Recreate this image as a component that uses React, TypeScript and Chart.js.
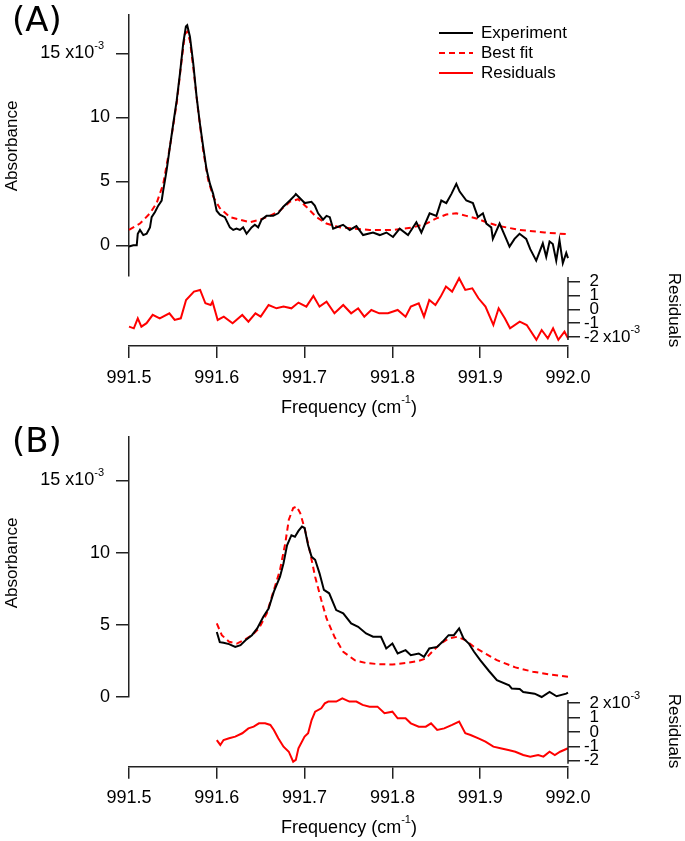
import React, { useEffect, useRef } from 'react';
import { Chart, registerables } from 'chart.js';
Chart.register(...registerables);

const FONT = '"Liberation Sans", Arial, sans-serif';
const AXIS = '#222';
const EXP_COLOR = '#000000';
const FIT_COLOR = '#ff0000';
const RES_COLOR = '#ff0000';

// ---------- tick labels ----------
const freqTicks = [991.5, 991.6, 991.7, 991.8, 991.9, 992.0];
const absTicks = [0, 5, 10, 15];
const resTicks = [-2, -1, 0, 1, 2];
const legendLabels = ['Experiment', 'Best fit', 'Residuals'];

// ---------- Panel A (values in units of 1e-3) ----------
const expA_freq = [991.5, 991.5049, 991.5088, 991.51, 991.5125, 991.5163, 991.5201, 991.5239, 991.5258, 991.5296, 991.5333, 991.5372, 991.539, 991.541, 991.5429, 991.5466, 991.5504, 991.5543, 991.558, 991.5618, 991.5648, 991.5663, 991.5694, 991.5732, 991.577, 991.5808, 991.5845, 991.5884, 991.5922, 991.5959, 991.5998, 991.6035, 991.6092, 991.6149, 991.6187, 991.6225, 991.6263, 991.63, 991.6339, 991.6396, 991.6433, 991.6471, 991.651, 991.6567, 991.6642, 991.6699, 991.6755, 991.6832, 991.6889, 991.69, 991.6945, 991.7002, 991.7078, 991.7116, 991.7154, 991.721, 991.725, 991.7287, 991.7325, 991.7438, 991.7514, 991.759, 991.7666, 991.7779, 991.7856, 991.7932, 991.8007, 991.8083, 991.8178, 991.8273, 991.833, 991.8424, 991.8501, 991.8557, 991.8614, 991.8671, 991.8728, 991.8766, 991.8842, 991.8917, 991.8974, 991.9031, 991.907, 991.9126, 991.9144, 991.9221, 991.9278, 991.9334, 991.9391, 991.9448, 991.9524, 991.957, 991.9638, 991.9713, 991.9752, 991.979, 991.9827, 991.9866, 991.9903, 991.9941, 991.998, 992.0];
const expA_abs = [-0.1, 0.0, 0.0, 0.9, 1.2, 0.8, 0.9, 1.4, 2.2, 2.6, 3.1, 3.5, 4.3, 5.1, 5.9, 7.7, 9.5, 11.3, 13.4, 15.8, 17.1, 17.2, 16.3, 14.2, 11.6, 9.5, 7.7, 5.9, 4.8, 4.0, 2.7, 2.4, 2.2, 1.4, 1.2, 1.3, 1.2, 1.4, 0.9, 1.4, 1.6, 1.4, 2.0, 2.3, 2.3, 2.5, 3.0, 3.5, 3.9, 4.0, 3.7, 3.3, 3.4, 3.1, 2.5, 2.0, 2.3, 2.2, 1.3, 1.6, 1.2, 1.5, 0.8, 1.0, 0.8, 1.0, 0.65, 1.3, 0.8, 1.8, 1.0, 2.5, 2.3, 3.5, 3.3, 4.0, 4.8, 4.2, 3.5, 3.3, 2.2, 2.5, 1.7, 1.4, 0.5, 1.7, 0.8, -0.1, 0.5, 0.9, 0.5, -0.3, -1.2, 0.15, -0.9, 0.3, 0.1, -1.2, 0.4, -1.4, -0.6, -1.0];

const fitA_freq = [991.5, 991.5125, 991.5239, 991.5315, 991.539, 991.5466, 991.5543, 991.56, 991.5637, 991.5663, 991.5694, 991.5732, 991.5788, 991.5845, 991.5902, 991.5959, 991.6035, 991.6149, 991.6263, 991.6377, 991.649, 991.6604, 991.6718, 991.6832, 991.6926, 991.7022, 991.7135, 991.7249, 991.74, 991.7742, 991.8007, 991.8234, 991.8387, 991.8501, 991.8614, 991.8728, 991.8842, 991.8956, 991.907, 991.9221, 991.9448, 991.9733, 992.0];
const fitA_abs = [1.2, 1.7, 2.5, 3.3, 4.8, 7.7, 11.1, 14.5, 16.5, 16.7, 16.0, 13.9, 10.5, 7.4, 5.1, 3.8, 2.9, 2.2, 2.0, 1.8, 2.0, 2.3, 2.7, 3.4, 3.6, 3.0, 2.2, 1.7, 1.4, 1.2, 1.2, 1.4, 1.7, 2.1, 2.4, 2.5, 2.3, 2.1, 1.8, 1.5, 1.2, 1.0, 0.86];

const resA_freq = [991.5, 991.5055, 991.51, 991.5141, 991.52, 991.527, 991.535, 991.546, 991.552, 991.559, 991.565, 991.574, 991.581, 991.587, 991.593, 991.5951, 991.601, 991.608, 991.618, 991.629, 991.636, 991.644, 991.65, 991.659, 991.668, 991.676, 991.685, 991.693, 991.702, 991.71, 991.717, 991.725, 991.734, 991.744, 991.753, 991.761, 991.768, 991.776, 991.785, 991.795, 991.806, 991.815, 991.821, 991.83, 991.836, 991.842, 991.849, 991.855, 991.861, 991.868, 991.876, 991.883, 991.891, 991.898, 991.906, 991.915, 991.921, 991.928, 991.934, 991.945, 991.953, 991.964, 991.97, 991.977, 991.983, 991.989, 991.996, 992.0];
const resA_val = [-1.25, -1.37, -0.65, -1.25, -1.0, -0.4, -0.65, -0.29, -0.77, -0.65, 0.67, 1.27, 1.39, 0.43, 0.31, 0.55, -0.77, -0.53, -1.0, -0.41, -0.89, -0.29, -0.53, 0.31, 0.07, 0.19, 0.07, 0.48, 0.19, 0.96, 0.19, 0.55, -0.29, 0.31, -0.29, 0.07, -0.53, -0.05, -0.29, -0.29, -0.05, -0.53, 0.19, 0.43, -0.53, 0.67, 0.31, 0.91, 1.63, 1.27, 2.23, 1.39, 1.51, 0.79, 0.19, -1.13, 0.07, -0.65, -1.37, -0.89, -1.13, -2.2, -1.49, -2.09, -1.37, -2.2, -1.61, -2.09];

// ---------- Panel B (values in units of 1e-3) ----------
const expB_freq = [991.6, 991.6034, 991.6077, 991.614, 991.621, 991.627, 991.633, 991.64, 991.646, 991.653, 991.659, 991.665, 991.672, 991.676, 991.68, 991.685, 991.689, 991.693, 991.697, 991.7, 991.704, 991.708, 991.712, 991.717, 991.722, 991.728, 991.736, 991.744, 991.753, 991.761, 991.77, 991.778, 991.787, 991.793, 991.8, 991.806, 991.815, 991.821, 991.83, 991.836, 991.842, 991.851, 991.857, 991.864, 991.87, 991.876, 991.881, 991.887, 991.893, 991.9, 991.91, 991.919, 991.933, 991.936, 991.945, 991.949, 991.962, 991.97, 991.979, 991.987, 991.998, 992.0];
const expB_abs = [4.5, 3.8, 3.75, 3.66, 3.47, 3.59, 3.94, 4.28, 4.75, 5.56, 6.13, 7.29, 8.33, 9.26, 10.5, 11.2, 11.1, 11.5, 11.8, 11.7, 10.5, 9.7, 9.5, 8.56, 7.41, 7.18, 6.02, 5.79, 5.09, 4.86, 4.4, 4.17, 4.17, 3.36, 3.7, 3.01, 3.24, 2.89, 3.01, 2.78, 3.36, 3.47, 3.82, 4.28, 4.28, 4.75, 4.05, 3.7, 3.13, 2.55, 1.8, 1.16, 0.8, 0.58, 0.55, 0.35, 0.23, 0.0, 0.35, 0.05, 0.23, 0.3];

const fitB_freq = [991.6, 991.6057, 991.614, 991.623, 991.631, 991.64, 991.648, 991.657, 991.665, 991.672, 991.678, 991.682, 991.687, 991.691, 991.695, 991.7, 991.706, 991.712, 991.719, 991.725, 991.734, 991.744, 991.757, 991.77, 991.785, 991.8, 991.815, 991.83, 991.838, 991.847, 991.855, 991.864, 991.874, 991.883, 991.893, 991.906, 991.919, 991.94, 991.96, 991.98, 992.0];
const fitB_abs = [5.09, 4.28, 3.82, 3.7, 3.94, 4.28, 4.75, 5.79, 7.41, 8.8, 10.65, 12.27, 13.08, 13.19, 12.73, 11.69, 10.07, 8.33, 6.71, 5.44, 4.17, 3.13, 2.55, 2.35, 2.27, 2.25, 2.35, 2.5, 2.66, 3.24, 3.7, 4.05, 4.17, 3.94, 3.47, 3.0, 2.55, 2.05, 1.75, 1.55, 1.4];

const resB_freq = [991.6, 991.604, 991.6077, 991.614, 991.621, 991.629, 991.636, 991.642, 991.648, 991.655, 991.661, 991.665, 991.67, 991.676, 991.682, 991.687, 991.69, 991.693, 991.7, 991.704, 991.708, 991.712, 991.719, 991.723, 991.727, 991.736, 991.743, 991.751, 991.759, 991.766, 991.774, 991.783, 991.791, 991.8, 991.806, 991.815, 991.821, 991.83, 991.838, 991.844, 991.851, 991.859, 991.868, 991.876, 991.883, 991.889, 991.898, 991.906, 991.915, 991.923, 991.932, 991.94, 991.949, 991.957, 991.966, 991.972, 991.979, 991.985, 991.991, 992.0];
const resB_val = [-0.56, -0.9, -0.56, -0.44, -0.32, -0.09, 0.25, 0.37, 0.6, 0.6, 0.49, 0.14, -0.44, -1.02, -1.37, -2.06, -1.94, -1.13, -0.32, -0.09, 0.83, 1.41, 1.64, 1.99, 2.11, 2.11, 2.34, 2.11, 2.11, 1.88, 1.76, 1.76, 1.3, 1.41, 0.95, 0.95, 0.6, 0.37, 0.37, 0.6, 0.14, 0.25, 0.49, 0.72, -0.09, -0.21, -0.44, -0.67, -1.02, -1.13, -1.25, -1.37, -1.6, -1.71, -1.6, -1.71, -1.37, -1.6, -1.37, -1.13];

// lowest value reached by the drawn residual axis spine
const resAxisBottom = -2.2;

// ---------- helpers ----------
type TextItem = {
  text: string; sup?: string; after?: string; x: number; y: number;
  align: 'left' | 'right' | 'center'; size: number; rot?: number; family?: string;
};

function drawText(ctx: CanvasRenderingContext2D, it: TextItem) {
  const fam = it.family || FONT;
  const supSize = Math.round(it.size * 0.62);
  ctx.save();
  ctx.translate(it.x, it.y);
  if (it.rot) ctx.rotate(it.rot);
  ctx.textBaseline = 'middle';
  ctx.textAlign = 'left';
  ctx.fillStyle = '#000';
  ctx.font = `${it.size}px ${fam}`;
  const baseW = ctx.measureText(it.text).width;
  const afterW = it.after ? ctx.measureText(it.after).width : 0;
  ctx.font = `${supSize}px ${fam}`;
  const supW = it.sup ? ctx.measureText(it.sup).width : 0;
  const total = baseW + supW + afterW;
  const x0 = it.align === 'right' ? -total : it.align === 'center' ? -total / 2 : 0;
  ctx.font = `${it.size}px ${fam}`;
  ctx.fillText(it.text, x0, 0);
  if (it.sup) {
    ctx.font = `${supSize}px ${fam}`;
    ctx.fillText(it.sup, x0 + baseW, -it.size * 0.42);
  }
  if (it.after) {
    ctx.font = `${it.size}px ${fam}`;
    ctx.fillText(it.after, x0 + baseW + supW, 0);
  }
  ctx.restore();
}

const pts = (f: number[], v: number[]) => f.map((x, i) => ({ x, y: v[i] }));

type MainSpec = {
  label: string; labelY: number; absY: number; yMin: number; yMax: number;
  padTop: number; padBottom: number; legend: boolean;
  expF: number[]; expV: number[]; fitF: number[]; fitV: number[];
};

function buildMain(p: MainSpec): any {
  const textPlugin = {
    id: 'igorMainText',
    afterDraw(chart: any) {
      const ctx = chart.ctx as CanvasRenderingContext2D;
      const ys = chart.scales.y;
      absTicks.forEach((v) => {
        const y = ys.getPixelForValue(v);
        if (v === 15) drawText(ctx, { text: `${v} x10`, sup: '-3', x: 104, y, align: 'right', size: 18 });
        else drawText(ctx, { text: String(v), x: 110, y, align: 'right', size: 18 });
      });
      drawText(ctx, { text: 'Absorbance', x: 12, y: p.absY, align: 'center', size: 17, rot: -Math.PI / 2 });
      drawText(ctx, { text: p.label, x: 12, y: p.labelY, align: 'left', size: 34, family: '"DejaVu Sans", sans-serif' });
      if (p.legend) {
        const styles = [
          { c: EXP_COLOR, d: [] as number[] },
          { c: FIT_COLOR, d: [6, 4] },
          { c: RES_COLOR, d: [] as number[] },
        ];
        legendLabels.forEach((lab, i) => {
          const y = 33 + i * 20;
          ctx.save();
          ctx.strokeStyle = styles[i].c;
          ctx.lineWidth = 2;
          ctx.setLineDash(styles[i].d);
          ctx.beginPath();
          ctx.moveTo(439, y);
          ctx.lineTo(473, y);
          ctx.stroke();
          ctx.restore();
          drawText(ctx, { text: lab, x: 481, y, align: 'left', size: 17 });
        });
      }
    },
  };
  return {
    type: 'line',
    data: {
      datasets: [
        { label: 'Experiment', data: pts(p.expF, p.expV), borderColor: EXP_COLOR, borderWidth: 2, pointRadius: 0, clip: 6 },
        { label: 'Best fit', data: pts(p.fitF, p.fitV), borderColor: FIT_COLOR, borderWidth: 2, borderDash: [6, 4], pointRadius: 0, clip: 6 },
      ],
    },
    options: {
      responsive: false,
      animation: false,
      events: [],
      layout: { padding: { left: 0, right: 117, top: p.padTop, bottom: p.padBottom } },
      plugins: { legend: { display: false }, tooltip: { enabled: false } },
      scales: {
        x: { type: 'linear', display: false, min: 991.5, max: 992.0 },
        y: {
          type: 'linear', position: 'left', min: p.yMin, max: p.yMax,
          afterFit: (s: any) => { s.width = 129; },
          afterBuildTicks: (s: any) => { s.ticks = absTicks.map((v) => ({ value: v })); },
          ticks: { display: false },
          grid: { drawOnChartArea: false, drawTicks: true, tickLength: 13, color: AXIS, lineWidth: 1.5 },
          border: { display: true, color: AXIS, width: 1.5 },
        },
      },
    },
    plugins: [textPlugin],
  };
}

type ResSpec = {
  yMin: number; yMax: number; padTop: number; xH: number; expOnTop: boolean;
  resF: number[]; resV: number[]; titleY: number; resTitleY: number;
};

function buildRes(p: ResSpec): any {
  const textPlugin = {
    id: 'igorResText',
    afterDraw(chart: any) {
      const ctx = chart.ctx as CanvasRenderingContext2D;
      const ys = chart.scales.y;
      const area = chart.chartArea;
      // right axis spine, only over the residual range
      ctx.save();
      ctx.strokeStyle = AXIS;
      ctx.lineWidth = 1.5;
      ctx.beginPath();
      ctx.moveTo(area.right, ys.getPixelForValue(p.yMax));
      ctx.lineTo(area.right, ys.getPixelForValue(resAxisBottom));
      ctx.stroke();
      ctx.restore();
      resTicks.forEach((v) => {
        const y = ys.getPixelForValue(v);
        drawText(ctx, { text: String(v), x: 599, y, align: 'right', size: 17 });
        if ((p.expOnTop && v === 2) || (!p.expOnTop && v === -2)) {
          drawText(ctx, { text: 'x10', sup: '-3', x: 603, y, align: 'left', size: 17 });
        }
      });
      drawText(ctx, { text: 'Residuals', x: 674, y: p.resTitleY, align: 'center', size: 17, rot: Math.PI / 2 });
      drawText(ctx, { text: 'Frequency (cm', sup: '-1', after: ')', x: 349, y: p.titleY, align: 'center', size: 18 });
    },
  };
  return {
    type: 'line',
    data: {
      datasets: [
        { label: 'Residuals', data: pts(p.resF, p.resV), borderColor: RES_COLOR, borderWidth: 2, pointRadius: 0, clip: 4 },
      ],
    },
    options: {
      responsive: false,
      animation: false,
      events: [],
      layout: { padding: { left: 129, right: 0, top: p.padTop, bottom: 0 } },
      plugins: { legend: { display: false }, tooltip: { enabled: false } },
      scales: {
        x: {
          type: 'linear', position: 'bottom', min: 991.5, max: 992.0,
          afterFit: (s: any) => { s.height = p.xH; },
          afterBuildTicks: (s: any) => { s.ticks = freqTicks.map((v) => ({ value: v })); },
          ticks: {
            callback: (v: any) => Number(v).toFixed(1), autoSkip: false, maxRotation: 0,
            font: { family: FONT, size: 18 }, color: '#000', padding: 9,
          },
          grid: { drawOnChartArea: false, drawTicks: true, tickLength: 12, color: AXIS, lineWidth: 1.5 },
          border: { display: true, color: AXIS, width: 1.5 },
        },
        y: {
          type: 'linear', position: 'right', min: p.yMin, max: p.yMax,
          afterFit: (s: any) => { s.width = 117; },
          afterBuildTicks: (s: any) => { s.ticks = resTicks.map((v) => ({ value: v })); },
          ticks: { display: false },
          grid: { drawOnChartArea: false, drawTicks: true, tickLength: 12, color: AXIS, lineWidth: 1.5 },
          border: { display: false },
        },
      },
    },
    plugins: [textPlugin],
  };
}

function ChartBox({ top, height, build }: { top: number; height: number; build: () => any }) {
  const ref = useRef<HTMLCanvasElement>(null);
  useEffect(() => {
    const c = new Chart(ref.current as HTMLCanvasElement, build());
    return () => c.destroy();
  }, []);
  return (
    <canvas
      ref={ref}
      width={685}
      height={height}
      style={{ position: 'absolute', left: 0, top, width: 685, height }}
    />
  );
}

export default function App() {
  return (
    <div style={{ position: 'fixed', left: 0, top: 0, width: 685, height: 841, background: '#fff', overflow: 'hidden' }}>
      <ChartBox
        top={0}
        height={285}
        build={() => buildMain({
          label: '(A)', labelY: 22, absY: 146, yMin: -2.4, yMax: 18, padTop: 15, padBottom: 9, legend: true,
          expF: expA_freq, expV: expA_abs, fitF: fitA_freq, fitV: fitA_abs,
        })}
      />
      <ChartBox
        top={265}
        height={160}
        build={() => buildRes({
          yMin: -2.64, yMax: 2.32, padTop: 12, xH: 79, expOnTop: false,
          resF: resA_freq, resV: resA_val, titleY: 143, resTitleY: 45,
        })}
      />
      <ChartBox
        top={420}
        height={290}
        build={() => buildMain({
          label: '(B)', labelY: 23, absY: 143, yMin: 0, yMax: 18, padTop: 17, padBottom: 13, legend: false,
          expF: expB_freq, expV: expB_abs, fitF: fitB_freq, fitV: fitB_abs,
        })}
      />
      <ChartBox
        top={688}
        height={153}
        build={() => buildRes({
          yMin: -2.41, yMax: 2.22, padTop: 12, xH: 74.3, expOnTop: true,
          resF: resB_freq, resV: resB_val, titleY: 140, resTitleY: 43,
        })}
      />
    </div>
  );
}
